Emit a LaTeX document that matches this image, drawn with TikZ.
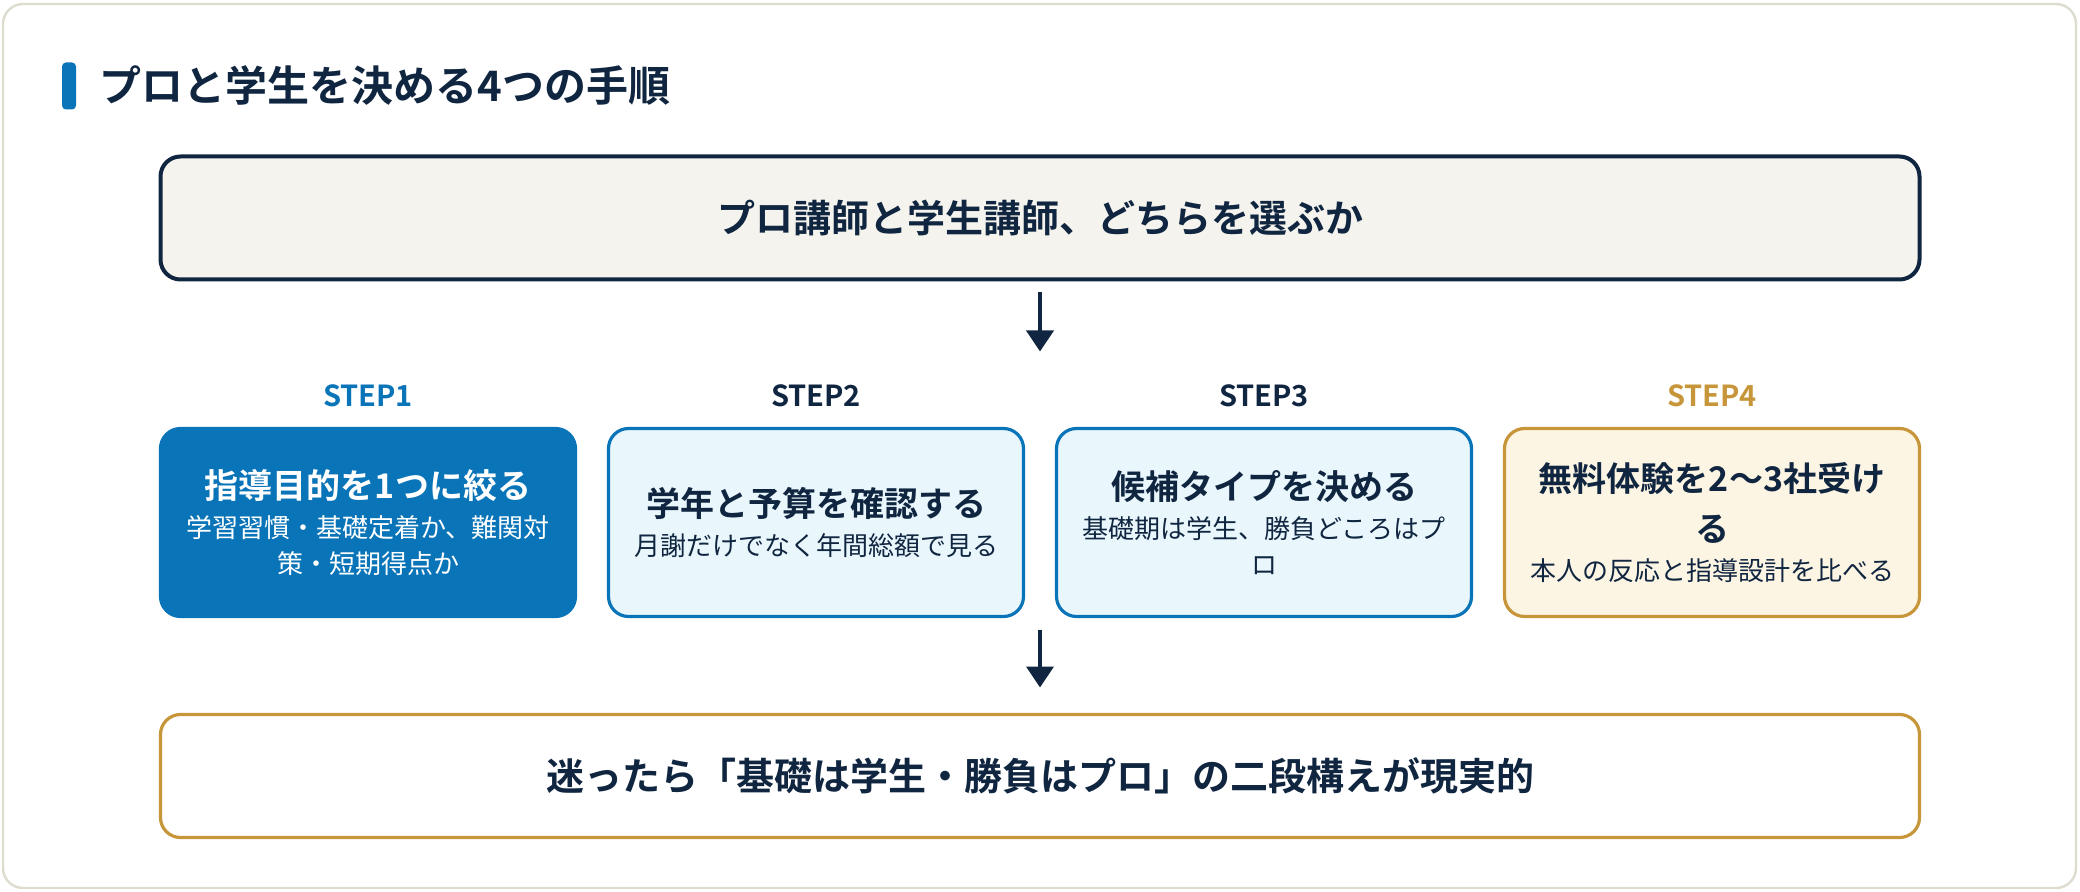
\documentclass[tikz,border=0pt]{standalone}
\usepackage{fontspec}
\setmainfont{Noto Sans CJK JP}[BoldFont={Noto Sans CJK JP Bold}]
\usetikzlibrary{positioning,arrows.meta,calc}
\definecolor{navy}{RGB}{16,38,64}
\definecolor{stepblue}{RGB}{10,116,184}
\definecolor{gold}{RGB}{200,150,58}
\definecolor{paleblue}{RGB}{233,247,253}
\definecolor{cream}{RGB}{253,245,228}
\definecolor{paper}{RGB}{245,243,238}
\definecolor{rim}{RGB}{222,220,206}
\newcommand\steptitle[1]{{\bfseries\fontsize{17}{18}\selectfont#1}}
\tikzset{
	banner/.style={draw, rounded corners=10pt, minimum width=879.5pt, minimum height=61.5pt, outer sep=0pt, font=\bfseries\fontsize{19}{23}\selectfont, text=navy},
	stepbox/.style={draw=stepblue, fill=paleblue, line width=1.6pt, rounded corners=10pt, minimum width=207.5pt, minimum height=94pt, inner sep=0pt, outer sep=0pt},
	steplabel/.style={font=\bfseries\fontsize{14.5}{16}\selectfont, inner sep=0pt},
	steptext/.style={align=center, font=\fontsize{13}{18}\selectfont, text=navy, inner sep=0pt},
	flow/.style={draw=navy, line width=2pt, -{Triangle[width=13.5pt,length=10.5pt]}},
}

\begin{document}
\begin{tikzpicture}[x=0.5pt,y=-0.5pt]
	\useasboundingbox (0,0) rectangle (2080,892);
	\draw[rim, fill=white, line width=1.2pt, rounded corners=10pt] (3,4) rectangle (2076,888);
	\node[fill=stepblue, rounded corners=2pt, minimum width=7pt, minimum height=23.5pt, inner sep=0pt] (bar) at (69,86) {};
	\node[right=11.5pt of bar, inner sep=0pt, font=\bfseries\fontsize{21}{24}\selectfont, text=navy] (heading) {プロと学生を決める4つの手順};
	\node[banner, draw=navy, fill=paper, line width=2pt] (question) at (1040,218) {プロ講師と学生講師、どちらを選ぶか};
	\node[stepbox, fill=stepblue, below=74.5pt of question.south west, anchor=north west] (step1) {};
	\node[stepbox, right=16.5pt of step1] (step2) {};
	\node[stepbox, right=16.5pt of step2] (step3) {};
	\node[stepbox, draw=gold, fill=cream, right=16.5pt of step3] (step4) {};
	\node[steplabel, text=stepblue, above=10.5pt of step1] (label1) {STEP1};
	\node[steplabel, text=navy, above=10.5pt of step2] (label2) {STEP2};
	\node[steplabel, text=navy, above=10.5pt of step3] (label3) {STEP3};
	\node[steplabel, text=gold, above=10.5pt of step4] (label4) {STEP4};
	\node[steptext, text=white] (text1) at (step1) {\steptitle{指導目的を1つに絞る}\\[1.5pt]学習習慣・基礎定着か、難関対\\策・短期得点か};
	\node[steptext] (text2) at (step2) {\steptitle{学年と予算を確認する}\\[1.5pt]月謝だけでなく年間総額で見る};
	\node[steptext] (text3) at (step3) {\steptitle{候補タイプを決める}\\[1.5pt]基礎期は学生、勝負どころはプ\\ロ};
	\node[steptext] (text4) at (step4) {\steptitle{無料体験を2〜3社受け}\\[7pt]\steptitle{る}\\[1.5pt]本人の反応と指導設計を比べる};
	\coordinate (fork) at ($(step2.north east)!.5!(step3.north west)$);
	\coordinate (merge) at ($(step2.south east)!.5!(step3.south west)$);
	\node[banner, draw=gold, fill=white, line width=1.6pt, below=49pt of merge] (verdict) {迷ったら「基礎は学生・勝負はプロ」の二段構えが現実的};
	\draw[flow, shorten <=6.5pt, shorten >=38.5pt] (question) -- (fork);
	\draw[flow, shorten <=6.5pt, shorten >=13.5pt] (merge) -- (verdict);
\end{tikzpicture}
\end{document}
